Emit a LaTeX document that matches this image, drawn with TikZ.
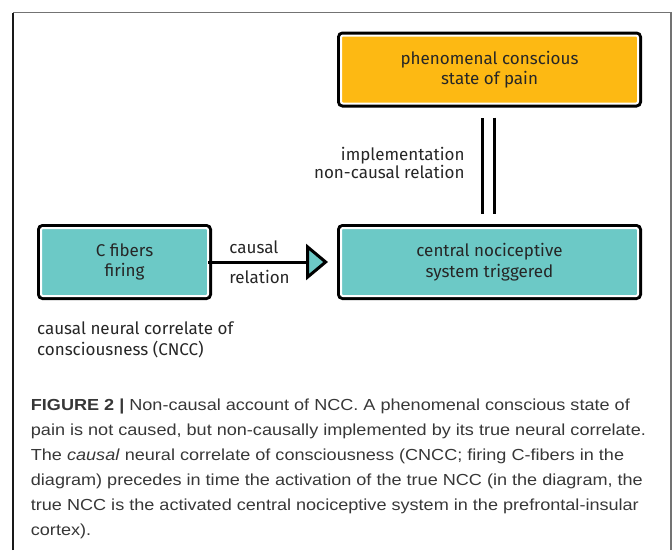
\documentclass[tikz,border=0pt]{standalone}
\usepackage{fontspec}
\setmainfont{Fira Sans}
\newfontfamily\capfont[FakeStretch=1.13]{Liberation Sans}
\usetikzlibrary{arrows.meta, positioning}
\definecolor{painorange}{RGB}{253,185,19}
\definecolor{nccteal}{RGB}{108,201,198}
\definecolor{captext}{RGB}{55,55,55}
\tikzset{
  every picture/.style={line width=0.8pt},
  box/.style={draw=white, line width=2pt, rounded corners=2pt, outer sep=0pt, minimum height=68pt,
    align=center, font=\fontsize{17}{20.5}\selectfont, text=black!85,
    preaction={draw=black, line width=8pt}},
  pbox/.style={box, fill=painorange},
  nbox/.style={box, fill=nccteal},
  lbl/.style={inner sep=0pt, font=\fontsize{17}{21}\selectfont, text=black!85},
  captxt/.style={inner sep=0pt, align=left, text=captext, font=\capfont\fontsize{16}{25}\selectfont}
}

\begin{document}
\begin{tikzpicture}[x=1pt, y=-1pt, tips=proper]
    \useasboundingbox (0,0) rectangle (672,550);
    \draw [line width=1.3pt, black!55] (13,12.7) -- (671,12.7) -- (671,550);
    \draw [line width=1.2pt, black!90] (13,550) -- (13,12.7);

    \node [pbox, minimum width=297pt] (pain) at (489.5,69.5) {phenomenal conscious\\state of pain};
    \node [nbox, minimum width=297pt, below=124.5pt of pain] (cns) {central nociceptive\\system triggered};
    \node [nbox, minimum width=167pt, left=133pt of cns] (cfib) {C fibers\\firing};

    \node [lbl, anchor=base west] (causal) at ([xshift=21pt, yshift=9pt]cfib.east) {causal};
    \node [lbl, anchor=base west] (relation) at ([xshift=21pt, yshift=-21pt]cfib.east) {relation};
    \node [lbl, align=left, below right=25pt and -4.3pt of cfib.south west] (cncc) {causal neural correlate of\\consciousness (CNCC)};

    \draw [line width=3pt, -{Triangle[length=22pt, width=36pt, fill=nccteal]}, shorten >=13pt] (cfib) -- (cns);
    \draw [line width=3pt, double=white, double distance=9pt, shorten <=14pt, shorten >=14pt]
        ([xshift=-1.5pt]pain.south) -- ([xshift=-1.5pt]cns.north)
        node [lbl, midway, left=22pt, yshift=3pt, align=right, font=\fontsize{17}{16.5}\selectfont] (impl) {implementation\\non-causal relation};

    \node [captxt, anchor=north west] (caption) at (30.5,398) {\textbf{FIGURE 2 |} Non-causal account of NCC. A phenomenal conscious state of\\
        pain is not caused, but non-causally implemented by its true neural correlate.\\
        The \textit{causal} neural correlate of consciousness (CNCC; firing C-fibers in the\\
        diagram) precedes in time the activation of the true NCC (in the diagram, the\\
        true NCC is the activated central nociceptive system in the prefrontal-insular\\
        cortex).};
\end{tikzpicture}
\end{document}
